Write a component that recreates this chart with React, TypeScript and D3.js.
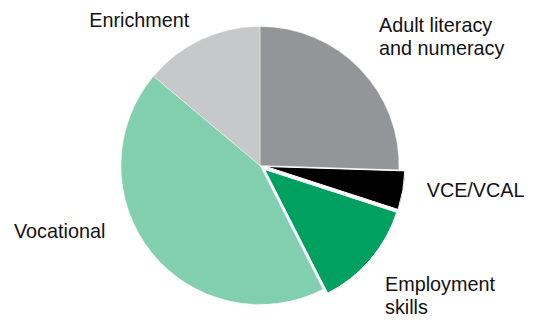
import React from "react";
import * as d3 from "d3";

const categories = ["Adult literacy and numeracy", "VCE/VCAL", "Employment skills", "Vocational", "Enrichment"];
const values = [25.5, 4.5, 12.5, 43.6, 13.9];
const colors = ["#939598", "#000000", "#00a160", "#81cfae", "#c7c8ca"];
const exploded = [0, 6, 6, 0, 0];
const labelLines = [["Adult literacy", "and numeracy"], ["VCE/VCAL"], ["Employment", "skills"], ["Vocational"], ["Enrichment"]];
const labelPos: [number, number][] = [[379, 31.7], [426.7, 197.3], [385, 291], [14, 237.7], [89.3, 26.7]];

export default function App() {
  const width = 539, height = 320;
  const cx = 260, cy = 165.5, r = 139;
  const pie = d3.pie<number>().sort(null).value((d) => d);
  const arcs = pie(values);
  const arc = d3.arc<d3.PieArcDatum<number>>().innerRadius(0).outerRadius(r);
  return (
    <svg width={width} height={height} style={{ position: "absolute", left: 0, top: 0, background: "#fff" }}>
      <g transform={`translate(${cx},${cy})`}>
        {arcs.map((a, i) => {
          const mid = (a.startAngle + a.endAngle) / 2;
          const dx = Math.sin(mid) * exploded[i];
          const dy = -Math.cos(mid) * exploded[i];
          return (
            <path key={i} d={arc(a) || ""} fill={colors[i]} stroke="#fff" strokeWidth={exploded[i] ? 1 : 0.4}
              transform={`translate(${dx},${dy})`} />
          );
        })}
      </g>
      {labelLines.map((lines, i) => (
        <text key={i} x={labelPos[i][0]} y={labelPos[i][1]} fontFamily="Liberation Sans, Arial, sans-serif" fontSize={19.8} fill="#111">
          {lines.map((l, j) => (
            <tspan key={j} x={labelPos[i][0]} dy={j === 0 ? 0 : 23.2}>{l}</tspan>
          ))}
        </text>
      ))}
    </svg>
  );
}
